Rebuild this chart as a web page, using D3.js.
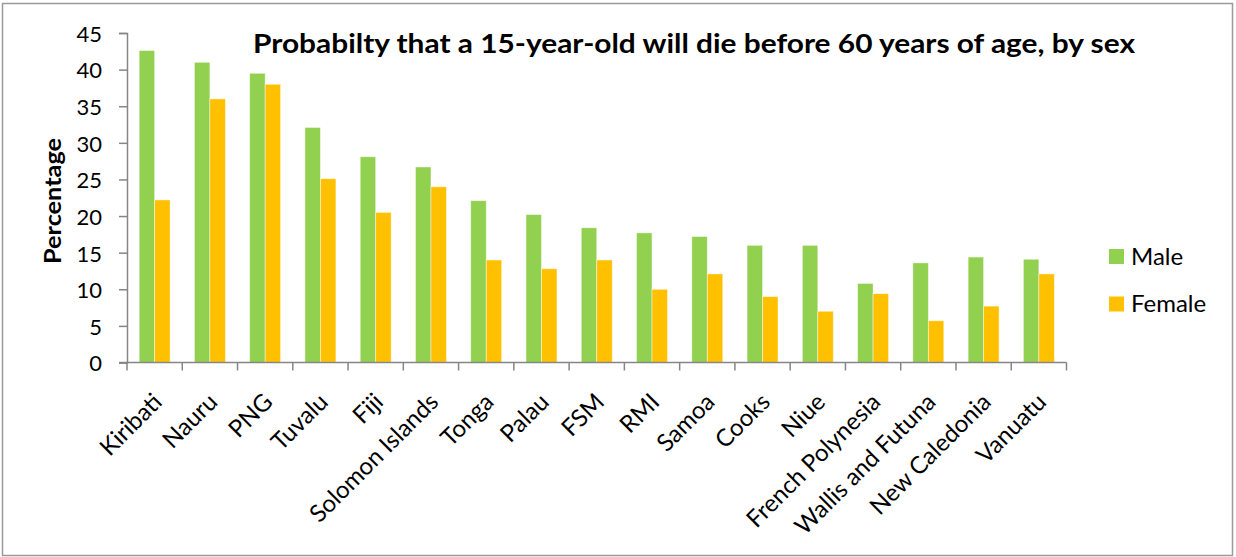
<!DOCTYPE html>
<html>
<head>
<meta charset="utf-8">
<script src="https://cdn.jsdelivr.net/npm/d3@7"></script>
<style>
  html, body { margin: 0; padding: 0; background: #fff; }
  svg { display: block; font-family: Lato, "Open Sans", sans-serif; }
</style>
</head>
<body>
<svg id="chart" width="1236" height="557"></svg>
<script>
// Probability of dying between 15 and 60, Pacific island countries
const countries = ["Kiribati", "Nauru", "PNG", "Tuvalu", "Fiji", "Solomon Islands", "Tonga", "Palau",
  "FSM", "RMI", "Samoa", "Cooks", "Niue", "French Polynesia", "Wallis and Futuna", "New Caledonia", "Vanuatu"];
const male   = [42.6, 41.0, 39.5, 32.1, 28.1, 26.7, 22.1, 20.2, 18.4, 17.7, 17.2, 16.0, 16.0, 10.8, 13.6, 14.4, 14.1];
const female = [22.2, 36.0, 38.0, 25.1, 20.5, 24.0, 14.0, 12.8, 14.0, 10.0, 12.1, 9.0, 7.0, 9.4, 5.7, 7.7, 12.1];
const seriesNames = ["Male", "Female"];
const seriesColors = ["#92D050", "#FFC000"];
const yTicks = [0, 5, 10, 15, 20, 25, 30, 35, 40, 45];
const titleText = "Probabilty that a 15-year-old will die before 60 years of age, by sex";
const yTitle = "Percentage";

const svg = d3.select("#chart");
const W = 1236, H = 557;
const plot = { left: 127, right: 1066.5, top: 33, bottom: 362.5 };

// outer frame
svg.append("rect")
  .attr("x", 2.5).attr("y", 3.5).attr("width", W - 6).attr("height", H - 5)
  .attr("fill", "#fff").attr("stroke", "#9a9a9a").attr("stroke-width", 1.5);

const x = d3.scaleBand().domain(countries).range([plot.left, plot.right]).padding(0);
const xs = d3.scaleBand().domain(seriesNames)
  .range([x.bandwidth() * 0.22, x.bandwidth() * 0.78]).padding(0);
const y = d3.scaleLinear().domain([0, 45]).range([plot.bottom, plot.top]);

const rows = countries.map((c, i) => ({ country: c, values: [male[i], female[i]] }));

// bars
const groups = svg.append("g").selectAll("g").data(rows).join("g")
  .attr("transform", d => `translate(${x(d.country)},0)`);
groups.selectAll("rect")
  .data(d => d.values.map((v, k) => ({ key: seriesNames[k], value: v, color: seriesColors[k] })))
  .join("rect")
  .attr("x", d => xs(d.key))
  .attr("width", xs.bandwidth())
  .attr("y", d => y(d.value))
  .attr("height", d => y(0) - y(d.value))
  .attr("fill", d => d.color)
  .attr("stroke", "#ffffff").attr("stroke-opacity", 0.55).attr("stroke-width", 0.8);

const axisColor = "#868686";

// y axis
const yAxis = svg.append("g").attr("transform", `translate(${plot.left},0)`)
  .call(d3.axisLeft(y).tickValues(yTicks).tickSize(8).tickPadding(17));
yAxis.select(".domain").attr("stroke", axisColor).attr("stroke-width", 1.5);
yAxis.selectAll(".tick line").attr("stroke", axisColor).attr("stroke-width", 1.5);
yAxis.selectAll(".tick text").attr("fill", "#000").attr("font-size", 22)
  .attr("dy", "0.38em")
  .attr("font-family", "Lato, 'Open Sans', sans-serif");

// x axis: ticks at category boundaries
const bounds = countries.map(c => x(c)).concat([plot.right]);
const xAxisG = svg.append("g");
xAxisG.append("line")
  .attr("x1", plot.left - 8).attr("x2", plot.right)
  .attr("y1", y(0)).attr("y2", y(0))
  .attr("stroke", axisColor).attr("stroke-width", 1.5);
xAxisG.selectAll("line.tk").data(bounds).join("line").attr("class", "tk")
  .attr("x1", d => d).attr("x2", d => d)
  .attr("y1", y(0)).attr("y2", y(0) + 8)
  .attr("stroke", axisColor).attr("stroke-width", 1.5);

// rotated category labels
xAxisG.selectAll("text").data(countries).join("text")
  .attr("transform", d => `translate(${x(d) + x.bandwidth() / 2 + 3},${y(0) + 35}) rotate(-45)`)
  .attr("text-anchor", "end")
  .attr("dy", "0.35em")
  .attr("font-size", 24)
  .attr("fill", "#000")
  .text(d => d);

// axis title
svg.append("text")
  .attr("transform", `translate(61,201) rotate(-90)`)
  .attr("text-anchor", "middle")
  .attr("font-weight", "bold").attr("font-size", 22)
  .attr("textLength", 126).attr("lengthAdjust", "spacingAndGlyphs")
  .attr("fill", "#000")
  .text(yTitle);

// chart title
svg.append("text")
  .attr("x", 253).attr("y", 53)
  .attr("font-weight", "bold").attr("font-size", 27)
  .attr("textLength", 882).attr("lengthAdjust", "spacingAndGlyphs")
  .attr("fill", "#000")
  .text(titleText);

// legend
const legend = svg.append("g").selectAll("g").data(seriesNames).join("g")
  .attr("transform", (d, i) => `translate(1109,${249 + i * 47.5})`);
legend.append("rect").attr("width", 15).attr("height", 15)
  .attr("fill", (d, i) => seriesColors[i]);
legend.append("text").attr("x", 22).attr("y", 7).attr("dy", "0.36em")
  .attr("font-size", 24).attr("fill", "#000").text(d => d);
</script>
</body>
</html>
